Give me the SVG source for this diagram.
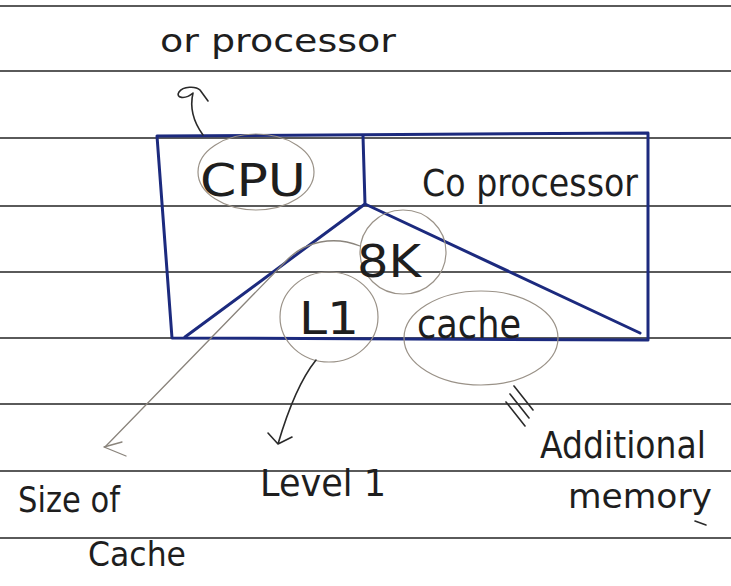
<svg xmlns="http://www.w3.org/2000/svg" width="731" height="586" viewBox="0 0 731 586">
<defs>
<style>
.rule{stroke:#5a5a5a;stroke-width:2}
.box{fill:none;stroke:#1c2a7e;stroke-width:3;stroke-linejoin:round;stroke-linecap:round}
.circ{fill:none;stroke:#9a9288;stroke-width:1.2}
.ink{fill:none;stroke:#2a2a2a;stroke-width:1.6;stroke-linecap:round;stroke-linejoin:round}
.faint{fill:none;stroke:#8a847c;stroke-width:1.3;stroke-linecap:round}
text{font-family:"DejaVu Sans","Liberation Sans",sans-serif;fill:#1e1e1e}
</style>
</defs>
<rect width="731" height="586" fill="#ffffff"/>
<g id="paper">
<line class="rule" x1="0" y1="6" x2="731" y2="6"/>
<line class="rule" x1="0" y1="71" x2="731" y2="71"/>
<line class="rule" x1="0" y1="138" x2="731" y2="138"/>
<line class="rule" x1="0" y1="206" x2="731" y2="206"/>
<line class="rule" x1="0" y1="272" x2="731" y2="272"/>
<line class="rule" x1="0" y1="338" x2="731" y2="338"/>
<line class="rule" x1="0" y1="404" x2="731" y2="404"/>
<line class="rule" x1="0" y1="471" x2="731" y2="471"/>
<line class="rule" x1="0" y1="538" x2="731" y2="538"/>
</g>
<g id="processor-box">
<path class="box" d="M157 136 L648 133 L648 340 L172 338 Z"/>
<line class="box" x1="363" y1="136" x2="365" y2="204"/>
<path class="box" d="M365 204 L185 337 M365 204 L640 333"/>
</g>
<g id="cpu">
<ellipse class="circ" cx="256" cy="172" rx="58" ry="38"/>
<text x="200" y="196" font-size="44" textLength="106" lengthAdjust="spacingAndGlyphs">CPU</text>
</g>
<g id="coprocessor">
<text x="422" y="196" font-size="38" textLength="216" lengthAdjust="spacingAndGlyphs">Co processor</text>
</g>
<g id="size-8k">
<ellipse class="circ" cx="403" cy="252" rx="43" ry="42"/>
<text x="357" y="277" font-size="44" textLength="64" lengthAdjust="spacingAndGlyphs">8K</text>
</g>
<g id="l1">
<ellipse class="circ" cx="329" cy="317" rx="49" ry="45"/>
<text x="299" y="334" font-size="44" textLength="60" lengthAdjust="spacingAndGlyphs">L1</text>
</g>
<g id="cache">
<ellipse class="circ" cx="481" cy="338" rx="77" ry="47"/>
<text x="417" y="338" font-size="40" textLength="104" lengthAdjust="spacingAndGlyphs">cache</text>
</g>
<g id="connectors">
<path class="ink" d="M203 135 C195 124 189 110 193 93 C185 100 175 98 179 92 C183 86 196 86 200 90 L208 101"/>
<path class="faint" d="M360 246 C335 236 305 240 285 262 L105 447"/>
<path class="faint" d="M104 447 L122 442 M104 447 L126 456"/>
<path class="ink" d="M316 360 C300 380 288 410 278 444 M278 444 L268 433 M278 444 L292 437"/>
<path class="ink" d="M514 386 L533 410 M510 394 L529 418 M506 402 L525 426"/>
<path class="ink" d="M695 521 L706 525"/>
</g>
<g id="label-processor">
<text x="160" y="52" font-size="32" textLength="236" lengthAdjust="spacingAndGlyphs">or processor</text>
</g>
<g id="label-size">
<text x="18" y="512" font-size="36" textLength="102" lengthAdjust="spacingAndGlyphs">Size of</text>
<text x="88" y="566" font-size="34" textLength="98" lengthAdjust="spacingAndGlyphs">Cache</text>
</g>
<g id="label-level">
<text x="260" y="496" font-size="38" textLength="126" lengthAdjust="spacingAndGlyphs">Level 1</text>
</g>
<g id="label-additional">
<text x="540" y="458" font-size="38" textLength="166" lengthAdjust="spacingAndGlyphs">Additional</text>
<text x="568" y="508" font-size="34" textLength="144" lengthAdjust="spacingAndGlyphs">memory</text>
</g>
</svg>
